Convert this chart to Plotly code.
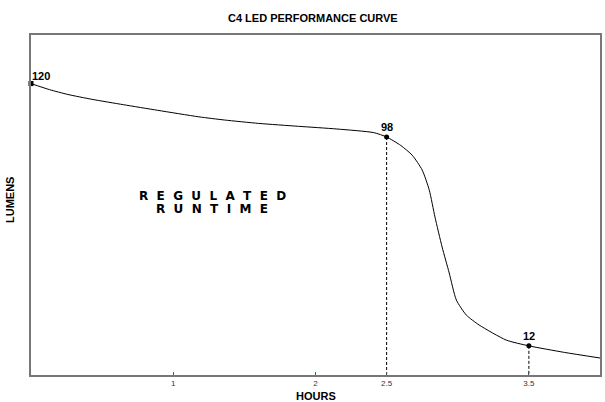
import plotly.graph_objects as go

hours = [0, 0.13, 0.26, 0.43, 0.65, 0.89, 1.18, 1.36, 1.6, 1.88, 2.15, 2.41, 2.5,
         2.6, 2.68, 2.75, 2.8, 2.84, 2.89, 2.94, 2.99, 3.06, 3.15, 3.34, 3.5, 3.75, 4.0]
lumens = [120, 117.5, 115.5, 113.5, 111.3, 109.0, 106.3, 105.0, 103.6, 102.4, 101.3, 99.8, 98,
          94.5, 90.5, 84.4, 76.1, 65.0, 52.7, 42.0, 30.9, 24.7, 20.6, 14.4, 12, 9.3, 7.0]

key_hours = [0, 2.5, 3.5]
key_lumens = [120, 98, 12]
key_labels = ["120", "98", "12"]

tick_vals = [1, 2, 2.5, 3.5]
tick_text = ["1", "2", "2.5", "3.5"]

title_text = "C4 LED PERFORMANCE CURVE"
x_title = "HOURS"
y_title = "LUMENS"
inner_lines = ["REGULATED", "RUNTIME"]
inner_y = [73.7, 68.4]

FONT = "Liberation Sans, Arial, sans-serif"

fig = go.Figure()

fig.add_trace(go.Scatter(x=hours, y=lumens, mode="lines",
                         line=dict(color="black", width=1, shape="spline", smoothing=0.6),
                         hoverinfo="skip", showlegend=False))

# dashed drop lines
for h, l in zip(key_hours[1:], key_lumens[1:]):
    fig.add_trace(go.Scatter(x=[h, h], y=[l, 0], mode="lines",
                             line=dict(color="black", width=1, dash="3px,2px"),
                             hoverinfo="skip", showlegend=False))

fig.add_trace(go.Scatter(x=key_hours, y=key_lumens, mode="markers",
                         marker=dict(color="black", size=5, symbol=["square", "circle", "circle"]),
                         cliponaxis=False, hoverinfo="skip", showlegend=False))

# point labels
fig.add_annotation(x=key_hours[0], y=key_lumens[0], text="<b>%s</b>" % key_labels[0],
                   showarrow=False, xanchor="left", yanchor="bottom", xshift=-1, yshift=0,
                   font=dict(family=FONT, size=11, color="black"))
for h, l, t in zip(key_hours[1:], key_lumens[1:], key_labels[1:]):
    fig.add_annotation(x=h, y=l, text="<b>%s</b>" % t, showarrow=False,
                       xanchor="center", yanchor="bottom", yshift=2,
                       font=dict(family=FONT, size=11, color="black"))

# inner text with wide letter spacing
sp = "&nbsp;&nbsp;"
for txt, yv in zip(inner_lines, inner_y):
    fig.add_annotation(x=1.275, y=yv, text="<b>" + sp.join(txt) + "</b>",
                       showarrow=False, xanchor="center", yanchor="middle", borderpad=0,
                       font=dict(family="DejaVu Sans, sans-serif", size=12, color="black"))

# titles
fig.add_annotation(xref="paper", yref="paper", x=0.5, y=1, yshift=17, xshift=-3,
                   text="<b>%s</b>" % title_text, showarrow=False,
                   xanchor="center", yanchor="middle",
                   font=dict(family=FONT, size=11, color="black"))
fig.add_annotation(xref="paper", yref="paper", x=0.5, y=0, yshift=-21,
                   text="<b>%s</b>" % x_title, showarrow=False,
                   xanchor="center", yanchor="middle",
                   font=dict(family=FONT, size=11, color="black"))
fig.add_annotation(xref="paper", yref="paper", x=0, y=0.5, xshift=-21, yshift=5,
                   text="<b>%s</b>" % y_title, showarrow=False, textangle=-90,
                   xanchor="center", yanchor="middle",
                   font=dict(family=FONT, size=11, color="black"))

fig.update_xaxes(range=[0, 4], tickvals=tick_vals, ticktext=tick_text,
                 ticks="inside", ticklen=3, tickcolor="#555", tickwidth=1,
                 showgrid=False, zeroline=False,
                 showline=True, linecolor="#777", linewidth=1.5, mirror=True,
                 tickfont=dict(family=FONT, size=8, color="#333"))
fig.update_yaxes(range=[0, 140], showticklabels=False, ticks="",
                 showgrid=False, zeroline=False,
                 showline=True, linecolor="#777", linewidth=1.5, mirror=True)

fig.update_layout(width=605, height=402, margin=dict(l=31, r=3, t=35, b=27),
                  paper_bgcolor="white", plot_bgcolor="white",
                  font=dict(family=FONT))

fig.write_html("out.html", config={"displayModeBar": False},
               post_script="document.body.style.margin='0';document.body.style.overflow='hidden';")
